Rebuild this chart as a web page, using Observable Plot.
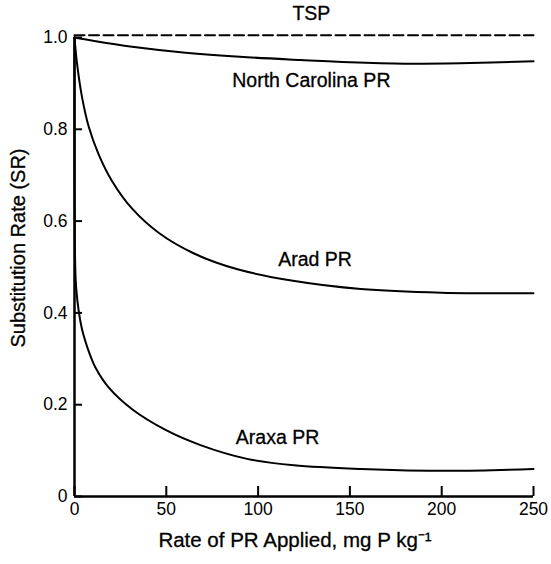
<!DOCTYPE html>
<html>
<head>
<meta charset="utf-8">
<script src="https://cdn.jsdelivr.net/npm/d3@7"></script>
<script src="https://cdn.jsdelivr.net/npm/@observablehq/plot@0.6"></script>
<style>
  body { margin: 0; background: #fff; }
  #chart svg { font-family: "Liberation Sans", Arial, sans-serif; }
</style>
</head>
<body>
<div id="chart"></div>
<script>
// Rate of PR applied (mg P/kg) and substitution rates
const tspX = [0, 250];
const tspY = [1.005, 1.005];

const ncX = [0, 10, 31.4, 60.5, 90, 123, 150, 180, 210, 250];
const ncY = [1.0, 0.993, 0.980, 0.967, 0.958, 0.951, 0.946, 0.943, 0.944, 0.948];

const aradX = [0, 1.45, 4.2, 7.8, 13.2, 20.5, 31.4, 46, 64.8, 88.8, 119, 156, 200, 250];
const aradY = [1.0, 0.941, 0.868, 0.805, 0.745, 0.687, 0.627, 0.574, 0.530, 0.495, 0.470, 0.452, 0.444, 0.443];

const araxaX = [0, 0.4, 1, 2.3, 4, 6, 8.5, 11.4, 18.7, 31.4, 49.6, 68.6, 94, 119.5, 156, 205, 250];
const araxaY = [1.0, 0.5, 0.45, 0.404, 0.366, 0.337, 0.308, 0.281, 0.237, 0.190, 0.145, 0.112, 0.082, 0.068, 0.060, 0.056, 0.060];

const labelNames = ["TSP", "North Carolina PR", "Arad PR", "Araxa PR"];
const labelX = [129, 129, 131, 110.6];
const labelY = [1.052, 0.906, 0.516, 0.129];

const xTicks = [0, 50, 100, 150, 200, 250];
const yTicks = [0, 0.2, 0.4, 0.6, 0.8, 1.0];
const yTickLabels = ["0", "0.2", "0.4", "0.6", "0.8", "1.0"];

const toRows = (xs, ys) => xs.map((x, i) => ({x, y: ys[i]}));
const labels = labelNames.map((t, i) => ({t, x: labelX[i], y: labelY[i]}));

const W = 551, H = 564, ML = 74, MR = 18, MT = 37, MB = 68;
const frameW = W - ML - MR, frameH = H - MT - MB;

const chart = Plot.plot({
  width: W,
  height: H,
  marginLeft: ML,
  marginRight: MR,
  marginTop: MT,
  marginBottom: MB,
  style: {fontFamily: "Liberation Sans, Arial, sans-serif", color: "#000", background: "#fff"},
  x: {domain: [0, 250]},
  y: {domain: [0, 1]},
  marks: [
    // tick labels
    Plot.axisX({ticks: xTicks, tickSize: 0, tickPadding: 6, fontSize: 17.5, label: null}),
    Plot.axisY({ticks: yTicks, tickFormat: (d, i) => yTickLabels[i], tickSize: 0, tickPadding: 7, fontSize: 17.5, label: null}),
    // inward tick marks
    Plot.tickX(xTicks, {x: d => d, insetTop: frameH - 10, strokeWidth: 2}),
    Plot.tickY(yTicks, {y: d => d, insetRight: frameW - 8, strokeWidth: 2}),
    Plot.ruleX([0], {y1: 0, y2: 1, strokeWidth: 2.5}),
    Plot.ruleY([0], {x1: 0, x2: 250, strokeWidth: 2.5}),
    Plot.line(toRows(tspX, tspY), {x: "x", y: "y", strokeWidth: 2, strokeDasharray: "10,4.5"}),
    Plot.line(toRows(ncX, ncY), {x: "x", y: "y", strokeWidth: 2, curve: "catmull-rom"}),
    Plot.line(toRows(aradX, aradY), {x: "x", y: "y", strokeWidth: 2, curve: "catmull-rom"}),
    Plot.line(toRows(araxaX, araxaY), {x: "x", y: "y", strokeWidth: 2, curve: "catmull-rom"}),
    Plot.text(labels, {x: "x", y: "y", text: "t", fontSize: 19.5, fill: "#000", stroke: "#000", strokeWidth: 0.3}),
    Plot.text(["Substitution Rate (SR)"], {frameAnchor: "left", textAnchor: "middle", dx: -56, dy: -19, rotate: -90, fontSize: 20, fill: "#000", stroke: "#000", strokeWidth: 0.3}),
    Plot.text(["Rate of PR Applied, mg P kg\u207B\u00B9"], {frameAnchor: "bottom", dx: -9, dy: 50, fontSize: 20.5, fill: "#000", stroke: "#000", strokeWidth: 0.3})
  ]
});
document.getElementById("chart").append(chart);
</script>
</body>
</html>
